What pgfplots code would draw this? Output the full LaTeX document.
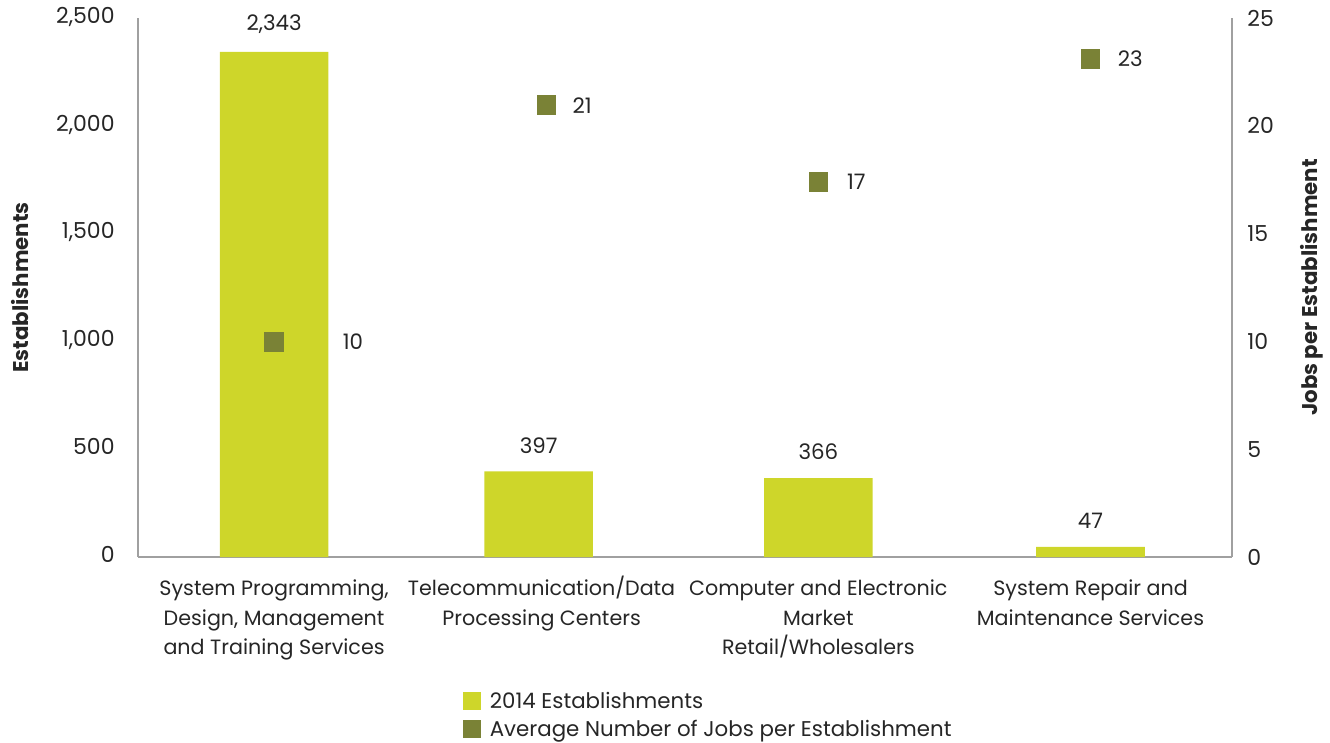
\documentclass[border=0pt]{standalone}
\usepackage{pgfplots}
\pgfplotsset{compat=1.18}
\usepackage{fontspec}
\setmainfont{Poppins}
\definecolor{barc}{HTML}{CED62A}
\definecolor{mkc}{HTML}{7A8236}
\definecolor{axc}{HTML}{A0A0A0}
\definecolor{txt}{HTML}{262626}
\begin{document}
\begin{tikzpicture}[font=\fontsize{15.5}{22}\selectfont]
\path[use as bounding box] (-103.5pt,-138.75pt) rectangle (894pt,417.75pt);
\begin{axis}[
  at={(0,0)}, anchor=south west, scale only axis,
  width=820.5pt, height=404.25pt,
  xmin=-0.5, xmax=3.52, ymin=0, ymax=2500,
  axis x line*=bottom, axis y line*=left,
  axis line style={axc, line width=1pt, -},
  major tick length=0pt,
  xtick={0,0.983,2,3},
  xticklabels={{System Programming,\\Design, Management\\and Training Services},
               {Telecommunication/Data\\Processing Centers},
               {Computer and Electronic\\Market\\Retail/Wholesalers},
               {System Repair and\\Maintenance Services}},
  typeset ticklabels with strut,
  xticklabel style={align=center, text=txt, anchor=north, yshift=-10pt, font=\fontsize{15.5}{22.2}\selectfont},
  ytick={0,500,1000,1500,2000,2500},
  yticklabel style={text=txt, xshift=-14pt, font=\fontsize{16.5}{20}\selectfont},
  /pgf/number format/1000 sep={,},
  /pgf/number format/assume math mode=true,
  legend style={at={(axis description cs:0.297,-0.248)}, anchor=north west, draw=none, fill=none,
    row sep=5pt, inner sep=0pt, font=\fontsize{16}{20}\selectfont, text=txt,
    legend cell align=left, nodes={inner sep=1pt}},
  legend image code/.code={\fill[#1] (0pt,-6.75pt) rectangle (13.5pt,6.75pt); \path (19pt,0pt);},
  clip=false,
]
\addplot[ybar, bar width=81.4pt, fill=barc, draw=none,
  nodes near coords, nodes near coords style={text=txt, anchor=south, yshift=10pt, font=\fontsize{16}{20}\selectfont, /pgf/number format/1000 sep={,}}]
  coordinates {(0,2343) (0.972,397) (2,366) (3,47)};
\addlegendentry{2014 Establishments}
\addlegendimage{fill=mkc, draw=none}
\addlegendentry{Average Number of Jobs per Establishment}
\node[rotate=90, text=txt, font=\fontsize{16}{18}\selectfont\bfseries] at (axis description cs:-0.1079,0.5) {Establishments};
\end{axis}
\begin{axis}[
  at={(0,0)}, anchor=south west, scale only axis,
  width=820.5pt, height=404.25pt,
  xmin=-0.5, xmax=3.52, ymin=0, ymax=25,
  axis x line=none, axis y line*=right,
  axis line style={axc, line width=1pt, -},
  major tick length=0pt,
  ytick={0,5,10,15,20,25},
  yticklabel style={text=txt, xshift=8pt, font=\fontsize{16.5}{20}\selectfont},
  /pgf/number format/assume math mode=true,
  clip=false,
]
\addplot[only marks, mark=square*, mark size=7pt, mark options={fill=mkc, draw=mkc, line width=0pt}]
  coordinates {(0,9.97) (1.001,20.95) (2,17.4) (3,23.1)};
\node[anchor=west, text=txt, font=\fontsize{16}{20}\selectfont] at (axis cs:0,9.97) [xshift=48pt] {10};
\node[anchor=west, text=txt, font=\fontsize{16}{20}\selectfont] at (axis cs:1.001,20.95) [xshift=16pt] {21};
\node[anchor=west, text=txt, font=\fontsize{16}{20}\selectfont] at (axis cs:2,17.4) [xshift=18pt] {17};
\node[anchor=west, text=txt, font=\fontsize{16}{20}\selectfont] at (axis cs:3,23.1) [xshift=17pt] {23};
\node[rotate=90, text=txt, font=\fontsize{16}{18}\selectfont\bfseries] at (axis description cs:1.0731,0.5) {Jobs per Establishment};
\end{axis}
\end{tikzpicture}
\end{document}
